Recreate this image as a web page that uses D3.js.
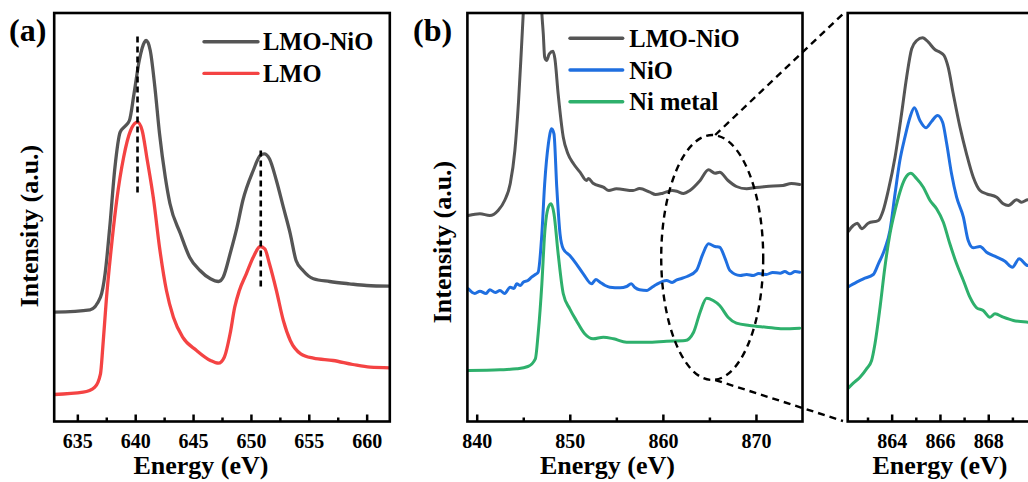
<!DOCTYPE html>
<html><head><meta charset="utf-8">
<script src="https://cdn.jsdelivr.net/npm/d3@7/dist/d3.min.js"></script>
<style>
body{margin:0;background:#fff;}
</style></head>
<body>
<svg id="c" width="1028" height="482"></svg>
<script>
// ---------- DATA ----------
// Panel (a): Mn L-edge, [energy eV, intensity a.u.]
const aLMONiO = [[633,109.3],[636.1,111.7],[637,124.3],[637.4,148],[637.8,194.3],[638.25,254.3],[638.7,289.3],[639.1,295],[639.5,301],[639.9,328],[640.35,361],[640.8,379.3],[640.95,381],[641.3,371],[641.7,334.3],[642.1,288],[642.6,244.3],[643.0,218],[643.9,188],[644.7,164.3],[645.6,151],[646.5,142.7],[647.2,140],[647.6,144.3],[648.2,167.7],[648.8,194.3],[649.3,221],[650.2,251],[650.8,266],[651.15,267.7],[651.6,262.7],[652.2,241],[652.8,214.3],[653.4,187.7],[653.9,161],[654.5,151],[655.4,142.7],[656.8,140],[658.5,137.7],[660,136],[662,135.3]];
const aLMO = [[633,27],[635.5,29.3],[636.5,34.3],[637,47.7],[637.2,74.3],[637.5,121],[638,181],[638.4,221],[639,264.3],[639.6,291],[640.2,299.3],[640.6,291],[641,264.3],[641.6,221],[642.1,174.3],[642.7,131],[643.3,104.3],[644.1,84.3],[645.3,71],[646.5,61],[647.2,58.3],[647.7,64.3],[648.2,87.7],[648.6,114.3],[649,131],[649.6,147.7],[650.2,164.3],[650.8,175],[651.2,172.7],[651.6,157.7],[652.2,131],[652.8,101],[653.4,81],[654.3,67.7],[655.4,63.3],[657.1,61],[658.8,57],[660.3,54.3],[662,53.7]];
const aPeakMarks = [[640.2,385,226],[650.85,271,131]]; // [energy, top, bottom]
const aTicks = [635,640,645,650,655,660];
const aMinor = [637.5,642.5,647.5,652.5,657.5];
const aLegend = [["LMO-NiO","#555555"],["LMO","#f44343"]];

// Panel (b): Ni L-edge
const bLMONiO = [[839.1,206],[840.35,207.7],[841.4,206],[842.3,211],[843,221],[843.6,237.7],[844.1,271],[844.5,321],[844.8,372],[845,408],[845.6,520],[846.2,560],[846.7,480],[847,408],[847.15,388],[847.3,364.3],[847.5,361],[847.8,367.7],[848.2,370.3],[848.4,362.7],[848.75,327.7],[849.3,284.3],[849.8,267.7],[850.4,257.7],[851.1,249.3],[851.8,241],[852.0,243],[852.5,238.3],[853.6,234.3],[854.2,231],[855,232.7],[856.8,231],[857.5,233],[858.6,229.3],[859.2,227],[860,228.3],[861,231],[861.5,230.3],[862.2,228],[862.9,231],[864,241],[864.9,251.7],[865.6,248.3],[866.1,249.3],[867,241],[867.9,235],[869,232.7],[870,234],[871.1,235],[872.9,236],[873.8,238],[874.7,237]];
const bNiO = [[839.1,132.7],[839.8,128],[840.35,130.3],[841.0,128],[841.4,131.7],[842.0,129],[842.5,131],[843.0,128],[843.6,134.3],[844.0,133],[844.3,137.7],[844.7,136],[845,139.3],[845.5,141],[845.9,144.3],[846.3,147],[846.6,149.3],[847,187.7],[847.3,237.7],[847.7,277.7],[848.05,292.7],[848.3,287.7],[848.6,234.3],[848.95,187.7],[849.3,172.7],[850,166],[850.7,157.7],[851.45,147.7],[852.35,137.7],[852.8,142],[853.25,139.3],[853.8,136],[854.3,134.3],[855.4,133.7],[856.1,135],[856.6,137.7],[857.0,134],[857.5,131.7],[858.3,131],[858.8,134],[859.3,137],[860.4,141],[861.0,139],[861.5,141.7],[862.0,143],[862.6,145],[863.6,151],[864.3,167.7],[864.9,177.7],[865.6,175],[866.1,174.3],[866.7,162.7],[867.2,151],[868.3,146],[869.0,147],[869.7,146],[870.3,148],[871.1,147],[871.8,149],[872.6,148.3],[873.1,150],[873.65,147.7],[874.2,150],[874.7,149.3]];
const bNi = [[839.1,51],[842.5,51.7],[844.3,52.7],[845.5,55],[846.3,62.7],[846.6,87.7],[847,137.7],[847.3,187.7],[847.7,214.3],[848,217.7],[848.3,207.7],[848.75,167.7],[849.3,127.7],[850,112.7],[850.7,101],[851.6,87.7],[852.5,82.7],[853.6,84.3],[854.7,82.7],[856.1,79.3],[858.3,79.3],[860.4,80.3],[862.4,81],[863.3,89.3],[864,109.3],[864.7,123.3],[865.4,121],[866.1,116],[867,104.3],[867.9,98.3],[869.3,96],[871.1,94.3],[872.9,92.7],[874.7,93.3]];
const bTicks = [840,850,860,870];
const bMinor = [845,855,865];
const bLegend = [["LMO-NiO","#555555"],["NiO","#1f6fe0"],["Ni metal","#2eb06c"]];

// Inset (zoom of 862-870 eV)
const iLMONiO = [[862.18,189.3],[862.41,196],[862.58,198.3],[862.76,192.7],[863.03,198.3],[863.45,201],[863.65,211],[863.86,231],[864.14,264.3],[864.41,307.7],[864.62,344.3],[864.83,372.7],[865.04,381],[865.28,383.7],[865.52,379.3],[865.8,371.7],[866,369.3],[866.17,366],[866.34,354.3],[866.55,327.7],[866.83,294.3],[867.1,267.7],[867.38,244.3],[867.66,231],[867.93,227.7],[868.35,224.3],[868.62,217.7],[868.83,216],[869.18,221.7],[869.38,219.3],[869.64,221.7],[869.9,220]];
const iNiO = [[862.18,134.3],[862.55,139.3],[862.83,142.7],[863.24,147],[863.45,157.7],[863.72,172.7],[863.93,191],[864.14,227.7],[864.34,261],[864.55,284.3],[864.76,304.3],[864.94,313.7],[865.17,301],[865.42,293.7],[865.66,300.3],[865.9,306],[866.11,299.3],[866.28,277.7],[866.48,247.7],[866.69,224.3],[866.97,204.3],[867.17,181],[867.38,173.7],[867.66,175],[867.93,169.3],[868.35,164.3],[868.69,160.3],[869.0,154.3],[869.28,162.7],[869.64,156],[869.9,158]];
const iNi = [[862.18,32.7],[862.41,38.3],[862.69,44.3],[862.96,52.7],[863.17,61],[863.31,77.7],[863.52,114.3],[863.72,154.3],[863.93,187.7],[864.14,211],[864.34,229.3],[864.55,242.7],[864.79,248.3],[865.04,242.7],[865.31,234.3],[865.59,221],[865.86,212.7],[866.14,199.3],[866.41,177.7],[866.69,157.7],[866.97,141],[867.24,124.3],[867.52,113.7],[867.79,111],[868.07,104.3],[868.28,107.7],[868.62,104.3],[869.04,101],[869.64,99.3],[869.9,99]];
const iTicks = [864,866,868];
const iMinor = [863,865,867,869];

// ---------- DRAW ----------
const svg = d3.select("#c");
const TOP = 13, BOT = 421.5;
const yDomain = [0, 408.5];
const FONT = '"Liberation Serif"';

function txt(x, y, size, s, anchor) {
  return svg.append("text").attr("x", x).attr("y", y)
    .attr("text-anchor", anchor || "start")
    .style("font-family", FONT).style("font-weight", "bold").style("font-size", size + "px")
    .attr("fill", "#000").text(s);
}

function panel(id, x0, x1, xdom, series, ticks, minor) {
  const x = d3.scaleLinear().domain(xdom).range([x0, x1]);
  const y = d3.scaleLinear().domain(yDomain).range([BOT, TOP]);
  const g = svg.append("g");
  svg.append("clipPath").attr("id", id).append("rect")
    .attr("x", x0).attr("y", TOP).attr("width", x1 - x0).attr("height", BOT - TOP);
  const line = d3.line().x(d => x(d[0])).y(d => y(d[1])).curve(d3.curveMonotoneX);
  const cg = g.append("g").attr("clip-path", `url(#${id})`);
  series.forEach(s => {
    cg.append("path").datum(s.data).attr("d", line)
      .attr("fill", "none").attr("stroke", s.color).attr("stroke-width", s.w || 3)
      .attr("stroke-linejoin", "round").attr("stroke-linecap", "round");
  });
  const ax = g.append("g").attr("transform", `translate(0,${BOT})`)
    .call(d3.axisBottom(x).tickValues(ticks).tickFormat(d3.format("d"))
      .tickSizeInner(-7).tickSizeOuter(0).tickPadding(12));
  ax.select(".domain").remove();
  ax.selectAll("line").attr("stroke", "#000").attr("stroke-width", 2.5);
  ax.selectAll("text").attr("fill", "#000")
    .style("font-family", FONT).style("font-weight", "bold").style("font-size", "20px");
  const mx = g.append("g").attr("transform", `translate(0,${BOT})`)
    .call(d3.axisBottom(x).tickValues(minor).tickFormat("").tickSizeInner(-4).tickSizeOuter(0));
  mx.select(".domain").remove();
  mx.selectAll("line").attr("stroke", "#000").attr("stroke-width", 2.5);
  g.append("rect").attr("x", x0).attr("y", TOP).attr("width", x1 - x0).attr("height", BOT - TOP)
    .attr("fill", "none").attr("stroke", "#000").attr("stroke-width", 2.6);
  return {x, y, g};
}

// Panel (a)
const pa = panel("clipA", 54.2, 389.8, [633, 662], [
  {data: aLMONiO, color: aLegend[0][1], w: 3.3},
  {data: aLMO, color: aLegend[1][1], w: 3.3}
], aTicks, aMinor);
aPeakMarks.forEach(m => {
  pa.g.append("line").attr("x1", pa.x(m[0])).attr("x2", pa.x(m[0]))
    .attr("y1", pa.y(m[1])).attr("y2", pa.y(m[2]))
    .attr("stroke", "#000").attr("stroke-width", 2.6).attr("stroke-dasharray", "6,4");
});
aLegend.forEach((l, i) => {
  const yy = 41.7 + i * 31.7;
  svg.append("line").attr("x1", 204).attr("x2", 258).attr("y1", yy).attr("y2", yy)
    .attr("stroke", l[1]).attr("stroke-width", 3.4).attr("stroke-linecap", "round");
  txt(263, yy + 8.5, 24.5, l[0]);
});
txt(9, 41, 32, "(a)");
txt(0, 0, 26, "Intensity (a.u.)", "middle").attr("transform", "translate(38,226) rotate(-90)");
txt(201, 474, 26, "Energy (eV)", "middle");

// Panel (b)
const pb = panel("clipB", 467.4, 802.5, [839, 875], [
  {data: bLMONiO, color: bLegend[0][1], w: 3},
  {data: bNiO, color: bLegend[1][1], w: 3},
  {data: bNi, color: bLegend[2][1], w: 3}
], bTicks, bMinor);
bLegend.forEach((l, i) => {
  const yy = 38.3 + i * 31.7;
  svg.append("line").attr("x1", 570).attr("x2", 622.7).attr("y1", yy).attr("y2", yy)
    .attr("stroke", l[1]).attr("stroke-width", 3.4).attr("stroke-linecap", "round");
  txt(629.3, yy + 8.5, 24.5, l[0]);
});
txt(413, 41, 32, "(b)");
txt(0, 0, 26, "Intensity (a.u.)", "middle").attr("transform", "translate(451,242) rotate(-90)");
txt(607.5, 474, 26, "Energy (eV)", "middle");

// Inset
const pi = panel("clipI", 847.7, 847.7 + 7.82 * 24.15, [862.18, 870], [
  {data: iLMONiO, color: bLegend[0][1], w: 3},
  {data: iNiO, color: bLegend[1][1], w: 3},
  {data: iNi, color: bLegend[2][1], w: 3}
], iTicks, iMinor);
txt(940, 474, 26, "Energy (eV)", "middle");

// zoom annotation: ellipse + connectors
const ecx = pb.x(865.3), ecy = 257.5;
svg.append("ellipse").attr("cx", ecx).attr("cy", ecy).attr("rx", 51).attr("ry", 122.5)
  .attr("fill", "none").attr("stroke", "#000").attr("stroke-width", 2.4).attr("stroke-dasharray", "7,5");
svg.append("line").attr("x1", ecx + 3).attr("y1", ecy - 122.5).attr("x2", 843).attr("y2", 14)
  .attr("stroke", "#000").attr("stroke-width", 2.4).attr("stroke-dasharray", "7,5");
svg.append("line").attr("x1", ecx + 3).attr("y1", ecy + 122.5).attr("x2", 843).attr("y2", 421)
  .attr("stroke", "#000").attr("stroke-width", 2.4).attr("stroke-dasharray", "7,5");
</script>
</body></html>
